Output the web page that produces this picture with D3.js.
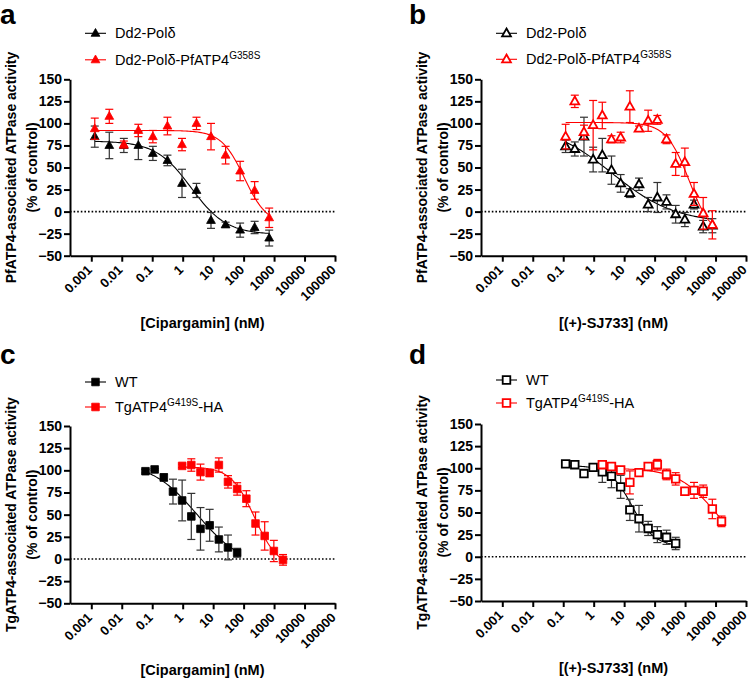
<!DOCTYPE html>
<html>
<head>
<meta charset="utf-8">
<script src="https://cdn.jsdelivr.net/npm/d3@7"></script>
<style>
  body { margin: 0; background: #fff; }
  svg text { font-family: "Liberation Sans", Arial, sans-serif; }
</style>
</head>
<body>
<div id="chart"></div>
<script>
// ---- axis ticks (shared by all four panels) ----
const xTicks = [0.001, 0.01, 0.1, 1, 10, 100, 1000, 10000, 100000];
const xTickLabels = ["0.001", "0.01", "0.1", "1", "10", "100", "1000", "10000", "100000"];
const yTicks = [150, 125, 100, 75, 50, 25, 0, -25, -50];

// ---- panel a: cipargamin, P. falciparum ----
const concA = [0.0013, 0.0039, 0.0117, 0.035, 0.105, 0.316, 0.95, 2.84, 8.5, 25.6, 76.8, 230, 691];
const aWtMean = [85, 75, 75, 75, 66, 58, 32, 24, -10, -15, -21, -18, -30];
const aWtErr  = [12, 15, 8, 16, 8, 6, 16, 8, 9, 3, 8, 7, 9];
const aMutMean = [94, 108, 76, 92, 85, 97, 76, 100, 85, 64, 46, 24, -7];
const aMutErr  = [12, 8, 4, 7, 7, 10, 7, 7, 15, 10, 11, 10, 11];
// fitted curves: [top, bottom, IC50 (nM), hill slope]
const aWtFit = [80, -26, 1.9, 0.75];
const aMutFit = [92, -15, 105, 1.15];

// ---- panel b: (+)-SJ733, P. falciparum ----
const concB = [0.12, 0.24, 0.48, 0.96, 1.92, 3.84, 7.68, 15.4, 30.7, 61.4, 123, 246, 492, 983, 1966, 3932, 7864];
const bWtMean = [74, 71, 85, 59, 64, 47, 32, 21, 31, 8, 16, 11, -3, -9, 8, -17, -16];
const bWtErr  = [7, 8, 22, 14, 19, 16, 10, 5, 7, 8, 17, 8, 10, 8, 5, 7, 8];
const bMutMean = [85, 125, 90, 98, 109, 82, 84, 119, 94, 103, 104, 82, 54, 56, 20, -2, -15];
const bMutErr  = [14, 7, 8, 28, 15, 4, 6, 18, 3, 12, 5, 5, 13, 16, 13, 18, 16];
const bWtFit = [100, -13, 4, 0.42];
const bMutFit = [101, -30, 1350, 1.15];

// ---- panel c: cipargamin, T. gondii ----
const concCWt = [0.06, 0.12, 0.24, 0.48, 0.96, 1.92, 3.84, 7.68, 15.4, 30.7, 61.4];
const cWtMean = [99, 101, 92, 76, 66, 48, 34, 38, 22, 13, 7];
const cWtErr  = [2, 1, 4, 14, 23, 26, 24, 18, 14, 14, 5];
const concCMut = [0.96, 1.92, 3.84, 7.68, 15.4, 30.7, 61.4, 123, 246, 492, 983, 1966];
const cMutMean = [105, 106, 98, 97, 106, 87, 79, 68, 40, 26, 9, -1];
const cMutErr  = [2, 7, 9, 4, 8, 7, 7, 9, 13, 16, 12, 6];
const cWtFit = [110, -10, 3, 0.57];
const cMutFit = [104, -10, 228, 1.12];

// ---- panel d: (+)-SJ733, T. gondii ----
const concDWt = [0.12, 0.24, 0.48, 0.96, 1.92, 3.84, 7.68, 15.4, 30.7, 61.4, 123, 246, 492];
const dWtMean = [105, 104, 94, 101, 96, 91, 79, 53, 43, 32, 25, 22, 15];
const dWtErr  = [1, 1, 1, 4, 12, 13, 13, 12, 15, 8, 9, 8, 7];
const concDMut = [1.92, 3.84, 7.68, 15.4, 30.7, 61.4, 123, 246, 492, 983, 1966, 3932, 7864, 15729];
const dMutMean = [104, 102, 98, 84, 95, 102, 104, 93, 88, 74, 75, 74, 54, 40];
const dMutErr  = [4, 3, 4, 13, 3, 4, 6, 6, 7, 3, 9, 7, 11, 6];
const dWtFit = [103, 12, 18, 1.2];
const dMutFit = [100, 0, 10000, 0.7];

const RED = "#ff0000";

const svg = d3.select("#chart").append("svg")
    .attr("width", 750)
    .attr("height", 680);

function hill(p, x) {
    return p[1] + (p[0] - p[1]) / (1 + Math.pow(x / p[2], p[3]));
}

function markerPath(shape) {
    if (shape === "triangle") return "M0,-4.8L4.4,3L-4.4,3Z";
    return "M-3.8,-3.8H3.8V3.8H-3.8Z";
}

function drawPanel(cfg) {
    const width = 265, height = cfg.bottom - cfg.top;
    const g = svg.append("g").attr("transform", `translate(${cfg.left},${cfg.top})`);

    const x = d3.scaleLog().domain([0.0002, 100000]).range([0, width]);
    const y = d3.scaleLinear().domain([-50, 150]).range([height, 0]);

    // panel letter
    svg.append("text")
        .attr("x", cfg.letterX).attr("y", cfg.letterY)
        .style("font-size", "28px").style("font-weight", "bold")
        .text(cfg.letter);

    // dotted zero line
    g.append("line")
        .attr("x1", 0).attr("x2", width)
        .attr("y1", y(0)).attr("y2", y(0))
        .attr("stroke", "#000").attr("stroke-width", 1.6)
        .attr("stroke-dasharray", "1.6,2");

    // Y axis
    const yAxis = g.append("g")
        .call(d3.axisLeft(y).tickValues(yTicks).tickSize(6).tickSizeOuter(0));
    yAxis.select(".domain").attr("stroke-width", 2);
    yAxis.selectAll(".tick line").attr("stroke-width", 2);
    yAxis.selectAll("text")
        .attr("x", -8)
        .style("font-size", "14px").style("font-weight", "bold").attr("fill", "#000");

    // X axis
    const xAxis = g.append("g")
        .attr("transform", `translate(0,${height})`)
        .call(d3.axisBottom(x).tickValues(xTicks)
            .tickFormat((d, i) => xTickLabels[i]).tickSize(6).tickSizeOuter(0));
    xAxis.select(".domain").attr("stroke-width", 2);
    xAxis.selectAll(".tick line").attr("stroke-width", 2);
    xAxis.selectAll("text")
        .attr("x", 0).attr("y", 0).attr("dy", 0)
        .attr("transform", "translate(1,15) rotate(-45)")
        .style("text-anchor", "end")
        .style("font-size", "13px").style("font-weight", "bold").attr("fill", "#000");

    // axis titles
    const yt = g.append("text")
        .attr("transform", "rotate(-90)")
        .style("text-anchor", "middle")
        .style("font-size", "14px").style("font-weight", "bold");
    yt.append("tspan").attr("x", -height / 2).attr("y", -54).text(cfg.yTitle);
    yt.append("tspan").attr("x", -height / 2).attr("y", -33).text("(% of control)");

    g.append("text")
        .attr("x", width / 2).attr("y", height + 72)
        .style("text-anchor", "middle")
        .style("font-size", "14.5px").style("font-weight", "bold")
        .text(cfg.xTitle);

    // series
    const line = d3.line().x(d => x(d[0])).y(d => y(d[1]));
    cfg.series.forEach(s => {
        const barColor = s.color === "#000" ? "#333" : s.color;
        const pts = s.conc.map((c, i) => ({ c: c, m: s.mean[i], e: s.err[i] }));

        // fitted curve
        const lo = Math.log10(s.conc[0]), hi = Math.log10(s.conc[s.conc.length - 1]);
        const curve = d3.range(0, 101).map(k => {
            const c = Math.pow(10, lo + (hi - lo) * k / 100);
            return [c, hill(s.fit, c)];
        });
        g.append("path").datum(curve)
            .attr("d", line)
            .attr("fill", "none")
            .attr("stroke", s.color).attr("stroke-width", 1.1);

        // error bars
        const eb = g.append("g").attr("stroke", barColor).attr("stroke-width", 1.2);
        eb.selectAll(".v").data(pts).enter().append("line")
            .attr("x1", d => x(d.c)).attr("x2", d => x(d.c))
            .attr("y1", d => y(d.m - d.e)).attr("y2", d => y(d.m + d.e));
        eb.selectAll(".t").data(pts).enter().append("line")
            .attr("x1", d => x(d.c) - 4).attr("x2", d => x(d.c) + 4)
            .attr("y1", d => y(d.m + d.e)).attr("y2", d => y(d.m + d.e));
        eb.selectAll(".b").data(pts).enter().append("line")
            .attr("x1", d => x(d.c) - 4).attr("x2", d => x(d.c) + 4)
            .attr("y1", d => y(d.m - d.e)).attr("y2", d => y(d.m - d.e));

        // markers
        g.selectAll(null).data(pts).enter().append("path")
            .attr("transform", d => `translate(${x(d.c)},${y(d.m)})`)
            .attr("d", markerPath(cfg.shape))
            .attr("fill", cfg.open ? "#fff" : s.color)
            .attr("stroke", s.color)
            .attr("stroke-width", cfg.open ? 1.8 : 0.8);
    });

    // legend
    cfg.series.forEach((s, i) => {
        const ly = cfg.legendY[i];
        const lg = g.append("g").attr("transform", `translate(0,${ly})`);
        lg.append("line")
            .attr("x1", 15).attr("x2", 36).attr("y1", 0).attr("y2", 0)
            .attr("stroke", s.color).attr("stroke-width", 1.1);
        lg.append("path")
            .attr("transform", "translate(25.5,0)")
            .attr("d", markerPath(cfg.shape))
            .attr("fill", cfg.open ? "#fff" : s.color)
            .attr("stroke", s.color)
            .attr("stroke-width", cfg.open ? 1.8 : 0.8);
        const t = lg.append("text")
            .attr("x", 45).attr("y", 5)
            .style("font-size", "14.5px");
        s.label.forEach(part => {
            if (part.sup) {
                t.append("tspan").attr("dy", -6).style("font-size", "10px").text(part.t);
            } else if (part.after) {
                t.append("tspan").attr("dy", 6).text(part.t);
            } else {
                t.append("tspan").text(part.t);
            }
        });
    });
}

const pfWt = [{ t: "Dd2-Polδ" }];
const pfMut = [{ t: "Dd2-Polδ-PfATP4" }, { t: "G358S", sup: true }];
const tgWt = [{ t: "WT" }];
const tgMut = [{ t: "TgATP4" }, { t: "G419S", sup: true }, { t: "-HA", after: true }];

drawPanel({
    letter: "a", letterX: 0, letterY: 24,
    left: 70, top: 79.3, bottom: 255.7, shape: "triangle", open: false,
    yTitle: "PfATP4-associated ATPase activity", xTitle: "[Cipargamin] (nM)",
    legendY: [-46, -19.5],
    series: [
        { conc: concA, mean: aWtMean, err: aWtErr, fit: aWtFit, color: "#000", label: pfWt },
        { conc: concA, mean: aMutMean, err: aMutErr, fit: aMutFit, color: RED, label: pfMut }
    ]
});

drawPanel({
    letter: "b", letterX: 409, letterY: 24,
    left: 481, top: 79.3, bottom: 255.7, shape: "triangle", open: true,
    yTitle: "PfATP4-associated ATPase activity", xTitle: "[(+)-SJ733] (nM)",
    legendY: [-46, -20],
    series: [
        { conc: concB, mean: bWtMean, err: bWtErr, fit: bWtFit, color: "#000", label: pfWt },
        { conc: concB, mean: bMutMean, err: bMutErr, fit: bMutFit, color: RED, label: pfMut }
    ]
});

drawPanel({
    letter: "c", letterX: 0, letterY: 364,
    left: 70, top: 426, bottom: 603.3, shape: "square", open: false,
    yTitle: "TgATP4-associated ATPase activity", xTitle: "[Cipargamin] (nM)",
    legendY: [-44, -19],
    series: [
        { conc: concCWt, mean: cWtMean, err: cWtErr, fit: cWtFit, color: "#000", label: tgWt },
        { conc: concCMut, mean: cMutMean, err: cMutErr, fit: cMutFit, color: RED, label: tgMut }
    ]
});

drawPanel({
    letter: "d", letterX: 409, letterY: 364,
    left: 481, top: 424, bottom: 601, shape: "square", open: true,
    yTitle: "TgATP4-associated ATPase activity", xTitle: "[(+)-SJ733] (nM)",
    legendY: [-44, -21],
    series: [
        { conc: concDWt, mean: dWtMean, err: dWtErr, fit: dWtFit, color: "#000", label: tgWt },
        { conc: concDMut, mean: dMutMean, err: dMutErr, fit: dMutFit, color: RED, label: tgMut }
    ]
});
</script>
</body>
</html>
